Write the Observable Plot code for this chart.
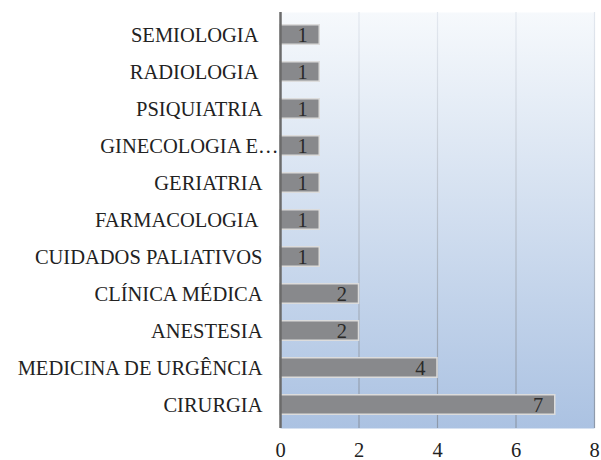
<!DOCTYPE html>
<html>
<head>
<meta charset="utf-8">
<script src="https://cdn.jsdelivr.net/npm/d3@7"></script>
<script src="https://cdn.jsdelivr.net/npm/@observablehq/plot@0.6"></script>
<style>
  body { margin: 0; background: #fff; }
  #chart svg { white-space: pre; }
  #chart svg text { font-size: 20.5px !important; font-family: 'Liberation Serif', 'Times New Roman', serif !important; }
</style>
</head>
<body>
<div id="chart"></div>
<script>
const categories = [
  "SEMIOLOGIA ", "RADIOLOGIA ", "PSIQUIATRIA", "GINECOLOGIA E…", "GERIATRIA",
  "FARMACOLOGIA ", "CUIDADOS PALIATIVOS", "CLÍNICA MÉDICA", "ANESTESIA",
  "MEDICINA DE URGÊNCIA", "CIRURGIA"
];
const values = [1, 1, 1, 1, 1, 1, 1, 2, 2, 4, 7];
const xTicks = [0, 2, 4, 6, 8];

const data = categories.map((c, i) => ({category: c, value: values[i]}));
const font = "'Liberation Serif', 'Times New Roman', serif";

const chart = Plot.plot({
  width: 601,
  height: 460,
  marginLeft: 280,
  marginRight: 7,
  marginTop: 12,
  marginBottom: 32,
  style: {fontFamily: font, fontSize: "20.5px", color: "#222", background: "transparent"},
  x: {domain: [0, 8], ticks: xTicks, label: null},
  y: {domain: categories, paddingInner: 0.42, paddingOuter: 0.21, label: null},
  marks: [
    Plot.frame({fill: "url(#bgGrad)", stroke: "none"}),
    Plot.ruleX(xTicks.filter(d => d > 0), {stroke: "url(#gridGrad)", strokeWidth: 1.2}),
    Plot.barX(data, {x: "value", y: "category", fill: "#88898c", stroke: "#dcdcdc", strokeWidth: 1.5, insetTop: 0.75, insetBottom: 0.75}),
    Plot.ruleX([0], {stroke: "#6b6b6b", strokeWidth: 2.5}),
    Plot.text(data, {x: "value", y: "category", text: d => String(d.value), textAnchor: "end", dx: -12, fill: "#2a2a2a"}),
    Plot.axisX({ticks: xTicks, tickSize: 0, tickPadding: 14}),
    Plot.axisY(categories.filter(c => c !== "GINECOLOGIA E…"), {tickSize: 0, tickPadding: 18}),
    Plot.text(["GINECOLOGIA E…"], {y: d => d, frameAnchor: "left", textAnchor: "end", dx: -2, fill: "#222"})
  ]
});

const ns = "http://www.w3.org/2000/svg";
const defs = document.createElementNS(ns, "defs");
defs.innerHTML = `
  <linearGradient id="bgGrad" x1="0" y1="0" x2="0" y2="1">
    <stop offset="0" stop-color="#f6f9fc"/>
    <stop offset="1" stop-color="#abc2e2"/>
  </linearGradient>
  <linearGradient id="gridGrad" gradientUnits="userSpaceOnUse" x1="0" y1="12" x2="0" y2="428">
    <stop offset="0" stop-color="#e3e8ef"/>
    <stop offset="1" stop-color="#8c98a9"/>
  </linearGradient>`;
chart.insertBefore(defs, chart.firstChild);
document.getElementById("chart").appendChild(chart);
</script>
</body>
</html>
